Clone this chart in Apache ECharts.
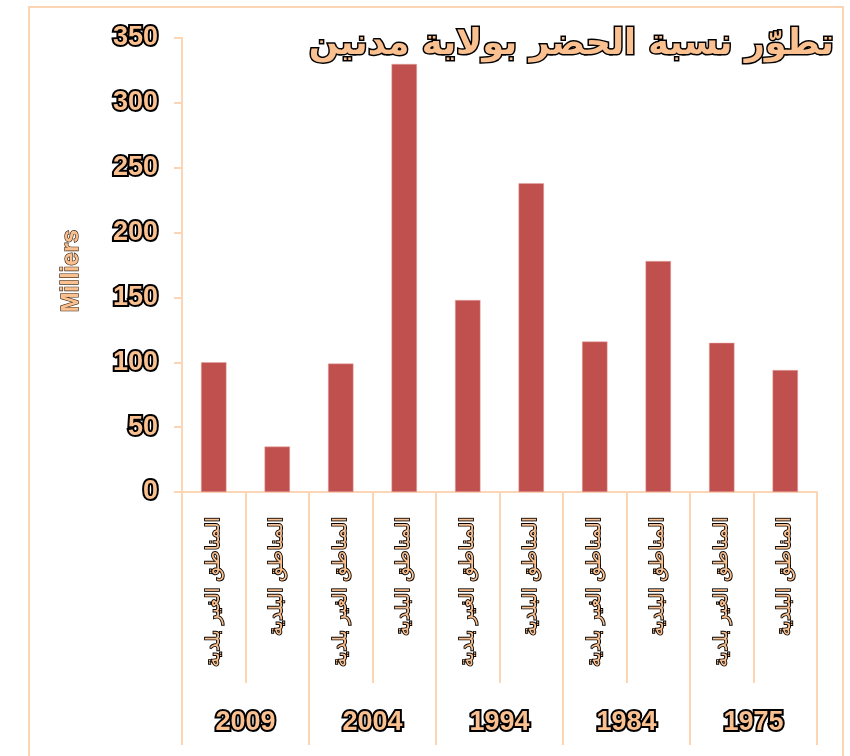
<!DOCTYPE html>
<html>
<head>
<meta charset="utf-8">
<script src="https://cdn.jsdelivr.net/npm/echarts@6/dist/echarts.min.js"></script>
<style>
html,body{margin:0;padding:0;background:#fff;}
#chart{width:850px;height:756px;}
</style>
</head>
<body>
<div id="chart"></div>
<script>
const titleText = 'تطوّر نسبة الحضر بولاية مدنين';
const yAxisName = 'Milliers';
const categories = [
  'المناطق الغير بلدية', 'المناطق البلدية',
  'المناطق الغير بلدية', 'المناطق البلدية',
  'المناطق الغير بلدية', 'المناطق البلدية',
  'المناطق الغير بلدية', 'المناطق البلدية',
  'المناطق الغير بلدية', 'المناطق البلدية'
];
const years = ['2009', '2004', '1994', '1984', '1975'];
const values = [100, 35, 99, 330, 148, 238, 116, 178, 115, 94];
const yMin = 0, yMax = 350, yInterval = 50;

const peach = '#fcd5b5';
const textFill = '#fac090';

const chart = echarts.init(document.getElementById('chart'), null, {renderer: 'canvas'});
chart.setOption({
  animation: false,
  backgroundColor: '#ffffff',
  graphic: [{
    type: 'rect',
    shape: {x: 29, y: 7, width: 814, height: 800},
    style: {fill: 'none', stroke: peach, lineWidth: 2},
    z: -1
  }],
  title: {
    text: titleText,
    right: 8,
    top: 22,
    textStyle: {
      fontFamily: 'DejaVu Sans',
      fontSize: 35,
      fontWeight: 'bold',
      color: textFill,
      textBorderColor: '#000',
      textBorderWidth: 3
    },
    z: 10
  },
  grid: {left: 182, right: 33, top: 38, bottom: 264, containLabel: false},
  xAxis: [{
    type: 'category',
    data: categories,
    position: 'bottom',
    axisLine: {show: true, lineStyle: {color: peach, width: 2}},
    axisTick: {show: true, length: 191, lineStyle: {color: peach, width: 2}},
    axisLabel: {
      interval: 0,
      rotate: 90,
      margin: 25,
      fontFamily: 'DejaVu Sans',
      fontSize: 19,
      color: textFill,
      textBorderColor: '#000',
      textBorderWidth: 1.8
    }
  }, {
    type: 'category',
    data: years,
    position: 'bottom',
    gridIndex: 0,
    axisLine: {show: false},
    axisTick: {show: true, length: 253, lineStyle: {color: peach, width: 2}},
    axisLabel: {
      interval: 0,
      margin: 217,
      fontFamily: 'Liberation Sans',
      fontSize: 27,
      fontWeight: 'bold',
      color: textFill,
      textBorderColor: '#000',
      textBorderWidth: 4
    }
  }],
  yAxis: {
    type: 'value',
    min: yMin,
    max: yMax,
    interval: yInterval,
    name: yAxisName,
    nameLocation: 'middle',
    nameGap: 99,
    nameRotate: 90,
    nameTextStyle: {
      fontFamily: 'Liberation Sans',
      fontSize: 24,
      fontWeight: 'bold',
      color: textFill,
      textBorderColor: '#3a2410',
      textBorderWidth: 1.3,
      padding: [0, 12, 0, 0]
    },
    axisLine: {show: true, lineStyle: {color: peach, width: 2}},
    axisTick: {show: true, length: 8, lineStyle: {color: peach, width: 2}},
    splitLine: {show: false},
    axisLabel: {
      margin: 24,
      fontFamily: 'Liberation Sans',
      fontSize: 27,
      fontWeight: 'bold',
      color: textFill,
      textBorderColor: '#000',
      textBorderWidth: 4
    }
  },
  series: [{
    type: 'bar',
    data: values,
    xAxisIndex: 0,
    barWidth: '40%',
    itemStyle: {color: '#c0504d', borderColor: '#e6a5a3', borderWidth: 0.5},
    z: 2
  }]
});
</script>
</body>
</html>
